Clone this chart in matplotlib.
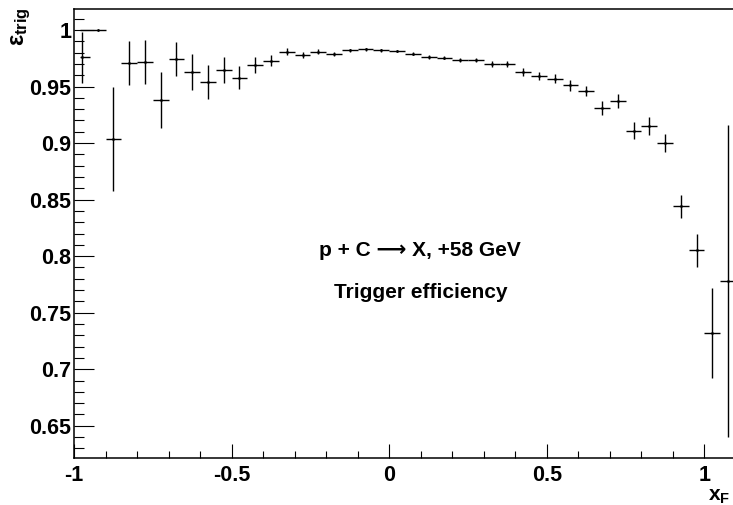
import numpy as np
import matplotlib.pyplot as plt
from matplotlib.ticker import MultipleLocator

plt.rcParams['font.family'] = ['Liberation Sans', 'DejaVu Sans']
plt.rcParams['font.weight'] = 'bold'
plt.rcParams['mathtext.fontset'] = 'custom'
plt.rcParams['mathtext.rm'] = 'Liberation Sans:bold'
plt.rcParams['mathtext.it'] = 'Liberation Sans:bold'
plt.rcParams['mathtext.bf'] = 'Liberation Sans:bold'

# x_F bin centres
xf = [-0.975, -0.925, -0.875, -0.825, -0.775, -0.725, -0.675, -0.625, -0.575, -0.525,
      -0.475, -0.425, -0.375, -0.325, -0.275, -0.225, -0.175, -0.125, -0.075, -0.025,
      0.025, 0.075, 0.125, 0.175, 0.225, 0.275, 0.325, 0.375, 0.425, 0.475,
      0.525, 0.575, 0.625, 0.675, 0.725, 0.775, 0.825, 0.875, 0.925, 0.975,
      1.025, 1.075]

# trigger efficiency
eff = [0.976, 1.000, 0.904, 0.971, 0.972, 0.938, 0.974, 0.963, 0.954, 0.965,
       0.958, 0.969, 0.973, 0.981, 0.978, 0.981, 0.979, 0.982, 0.983, 0.982,
       0.9815, 0.979, 0.976, 0.9755, 0.9735, 0.9735, 0.970, 0.970, 0.963, 0.9595,
       0.957, 0.951, 0.946, 0.931, 0.937, 0.911, 0.915, 0.900, 0.844, 0.805,
       0.732, 0.778]

eff_err = [0.0225, 0.0, 0.046, 0.0195, 0.0195, 0.025, 0.015, 0.016, 0.015, 0.0115,
           0.010, 0.007, 0.005, 0.0035, 0.003, 0.002, 0.002, 0.0015, 0.0012, 0.0012,
           0.0012, 0.0015, 0.0015, 0.0015, 0.002, 0.002, 0.0025, 0.003, 0.0035, 0.0035,
           0.004, 0.0045, 0.0047, 0.0062, 0.006, 0.0074, 0.008, 0.008, 0.0103, 0.015,
           0.0395, 0.138]

xerr_lo = [0.005, 0.055] + [0.025] * 40
xerr_hi = [0.025] * 42

W, H = 733, 505
fig = plt.figure(figsize=(W / 100, H / 100), dpi=100)
ax = fig.add_axes([74 / W, 1 - 458.3 / H, (736 - 74) / W, (458.3 - 9) / H])

ax.errorbar(xf, eff, yerr=eff_err, xerr=[xerr_lo, xerr_hi], fmt='.', color='black',
            ecolor='black', elinewidth=1.0, markersize=2, capsize=0)

ax.set_xlim(-1, 1.1)
ax.set_ylim(0.6212, 1.0186)

ax.xaxis.set_major_locator(MultipleLocator(0.5))
ax.xaxis.set_minor_locator(MultipleLocator(0.1))
ax.yaxis.set_major_locator(MultipleLocator(0.05))
ax.yaxis.set_minor_locator(MultipleLocator(0.01))

ax.xaxis.set_major_formatter(plt.FuncFormatter(lambda v, p: f'{v:g}'))
ax.yaxis.set_major_formatter(plt.FuncFormatter(lambda v, p: f'{v:g}'))

ax.tick_params(axis='y', which='major', direction='in', length=14.4, width=0.8,
               labelsize=15.5, pad=2)
ax.tick_params(axis='y', which='minor', direction='in', length=7.2, width=0.8)
ax.tick_params(axis='x', which='major', direction='in', length=10, width=0.8,
               labelsize=15.5, pad=5)
ax.tick_params(axis='x', which='minor', direction='in', length=5, width=0.8)
for lab in ax.get_xticklabels() + ax.get_yticklabels():
    lab.set_fontweight('bold')

for s in ax.spines.values():
    s.set_linewidth(1.1)

ax.text(0.096, 0.8004, 'p + C \u27f6 X, +58 GeV', ha='center', va='baseline',
        fontsize=15, fontweight='bold')
ax.text(0.0995, 0.763, 'Trigger efficiency', ha='center', va='baseline',
        fontsize=15, fontweight='bold')

fig.text(21 / W, 1 - 7 / H, r'$\epsilon_{trig}$', rotation=90, ha='center', va='top',
         fontsize=17)
fig.text(0.996, 1 - 487 / H, r'$x_F$', ha='right', va='top', fontsize=15)

fig.savefig('out.png', dpi=100)
